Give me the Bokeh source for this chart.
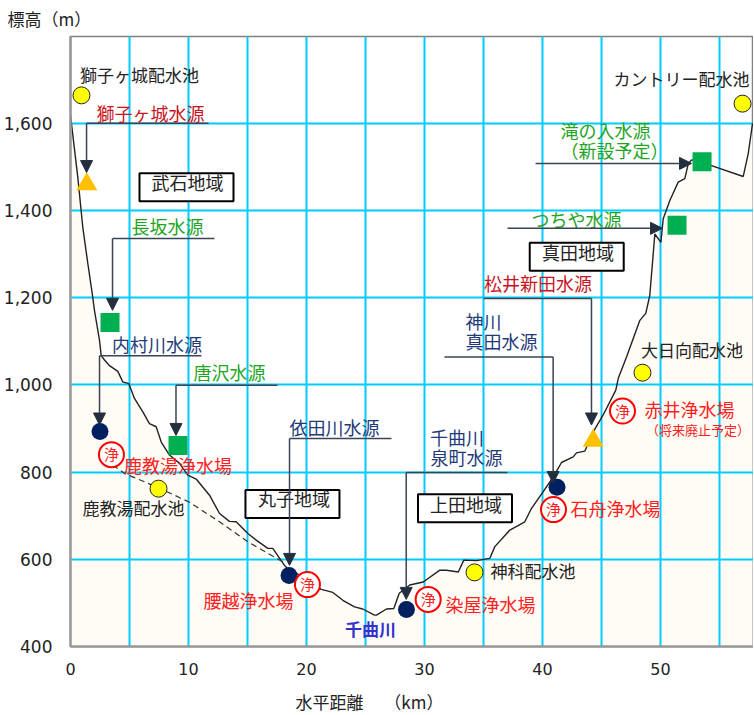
from bokeh.plotting import figure
from bokeh.models import ColumnDataSource, FixedTicker, NumeralTickFormatter, Arrow, NormalHead, Title
from bokeh.core.properties import value
from bokeh.embed import file_html
from bokeh.resources import INLINE

# Terrain profile: horizontal distance (km), elevation (m)
dist_km = [0.0,0.62,1.04,1.47,1.84,2.03,2.46,2.60,2.88,3.31,4.01,4.43,4.94,5.42,6.13,6.69,7.26,7.69,8.39,9.24,9.94,10.65,
           11.78,12.63,13.47,14.04,15.03,15.74,16.72,17.14,18.14,18.56,19.41,21.25,22.23,23.08,24.07,24.77,25.76,25.93,
           26.78,27.40,27.86,28.75,29.89,31.30,31.86,32.86,33.33,34.41,35.53,35.96,37.23,38.50,39.07,40.06,40.91,41.61,
           42.60,42.88,43.58,44.30,45.14,46.21,46.42,47.12,48.25,48.75,49.09,49.52,50.03,50.23,50.79,51.50,52.06,52.35,
           52.63,54.32,57.01,57.43,57.80]
elev_m = [1618,1476,1362,1278,1210,1171,1102,1067,1057,1044,1031,1007,1003,969,938,911,904,869,839,820,793,784,
          747,705,687,686,659,644,625,625,586,575,564,531,524,506,491,486,472,472,
          486,487,522,541,548,575,575,571,598,597,602,629,667,686,717,755,789,822,
          835,844,848,892,931,988,1015,1064,1148,1164,1205,1346,1327,1381,1423,1465,1473,1507,
          1516,1503,1478,1530,1600]

# Dashed conveyance line
pipe_km = [3.58,4.58,7.46,10.08,12.63,15.03,17.99]
pipe_m = [816,797,764,731,686,640,594]

# Facilities
pond_km = [0.93,56.95,7.46,34.24,48.47]
pond_m = [1664,1645,762,570,1028]
tri_km = [1.38,44.3]
tri_m = [1460,872]
square_km = [3.35,9.11,51.4,53.52]
square_m = [1143,861,1366,1512]
navy_km = [2.5,18.52,28.47,41.23]
navy_m = [893,563,485,765]
plant_km = [3.47,20.08,30.31,40.93,46.78]
plant_m = [840,542,508,714,940]

# Leader lines: horizontal run, then arrow down to a source
down_x0 = [11.69,12.2,11.1,17.54,27.2,37.03,31.69,35.0]
down_x1 = [1.36,3.56,2.46,8.94,18.56,28.45,40.9,44.15]
down_y0 = [1600,1336,1067,999,877,799,1064,1198]
down_y1 = [1487,1171,908,884,586,508,774,908]
# Horizontal arrows
side_x0 = [37.03,39.41]
side_x1 = [50.17,52.63]
side_y = [1359,1508]

# Area boxes
area_names = ["武石地域","丸子地域","上田地域","真田地域"]
box_km = [9.83,18.81,33.43,42.9]
box_m = [1453,727,717,1294]
area_km = [9.92,18.94,33.52,43.0]
area_m = [1460,735,723,1301]

black_names = ["獅子ヶ城配水池","鹿教湯配水池","神科配水池","大日向配水池","カントリー配水池"]
black_km = [5.85,5.34,39.19,52.67,51.78]
black_m = [1707,714,570,1077,1698]
dred_names = ["獅子ヶ城水源","松井新田水源"]
dred_km = [6.78,39.62]
dred_m = [1620,1230]
green_names = ["長坂水源","唐沢水源","つちや水源","滝の入水源","（新設予定）"]
green_km = [8.22,13.47,42.88,45.34,46.1]
green_m = [1359,1024,1375,1581,1535]
navy_names = ["内村川水源","依田川水源","千曲川","泉町水源","神川","真田水源"]
navy_tkm = [7.33,22.37,32.75,33.56,35.0,36.53]
navy_tm = [1090,898,875,831,1141,1097]
red_names = ["鹿教湯浄水場","腰越浄水場","染屋浄水場","石舟浄水場","赤井浄水場"]
red_km = [9.11,15.08,35.59,46.19,52.46]
red_m = [811,503,494,714,941]

xticks = [0,10,20,30,40,50]
xminor = [5,15,25,35,45,55]
yticks = [400,600,800,1000,1200,1400,1600]

JP = value("Noto Sans CJK JP")

p = figure(width=746, height=707, output_backend="svg", toolbar_location=None,
           x_range=(0,57.88), y_range=(400,1799),
           frame_width=683, frame_height=610,
           min_border_left=63, min_border_right=0, min_border_top=36, min_border_bottom=61,
           background_fill_color="white", border_fill_color="white")
p.outline_line_color = "#808080"
p.outline_line_width = 1.5

for ax in (p.xaxis[0], p.yaxis[0]):
    ax.axis_line_color = "#999999"
    ax.axis_line_width = 2.5
    ax.major_tick_line_color = None
    ax.minor_tick_line_color = None
    ax.major_label_text_color = "#222222"
    ax.major_label_text_font = "DejaVu Sans"

p.xaxis[0].ticker = FixedTicker(ticks=xticks, minor_ticks=xminor)
p.xaxis[0].major_label_text_font_size = "16px"
p.xaxis[0].major_label_standoff = 10
p.yaxis[0].ticker = FixedTicker(ticks=yticks)
p.yaxis[0].formatter = NumeralTickFormatter(format="0,0")
p.yaxis[0].major_label_text_font_size = "17px"
p.yaxis[0].major_label_standoff = 12

p.xgrid.grid_line_color = "#00CCFF"
p.xgrid.grid_line_width = 2
p.xgrid.minor_grid_line_color = "#00CCFF"
p.xgrid.minor_grid_line_width = 2
p.ygrid.grid_line_color = "#00CCFF"
p.ygrid.grid_line_width = 2

# cream ground fill under the grid
p.varea(x=dist_km, y1=[400]*len(dist_km), y2=elev_m, fill_color="#FFFCF5", level="image")
p.line(dist_km, elev_m, line_color="#222222", line_width=1.4)
p.line(pipe_km, pipe_m, line_color="#333333", line_width=1.2, line_dash="6 4")

# leaders
p.multi_line([[a,b] for a,b in zip(down_x0,down_x1)], [[c,c] for c in down_y0],
             line_color="#3A4455", line_width=1.5)
dark = "#232F3E"
down_src = ColumnDataSource(dict(x0=down_x1, y0=down_y0, x1=down_x1, y1=down_y1))
p.add_layout(Arrow(source=down_src, x_start="x0", y_start="y0", x_end="x1", y_end="y1",
                   line_color="#3A4455", line_width=1.5,
                   end=NormalHead(size=12, fill_color=dark, line_color=dark, line_width=1)))
side_src = ColumnDataSource(dict(x0=side_x0, y0=side_y, x1=side_x1, y1=side_y))
p.add_layout(Arrow(source=side_src, x_start="x0", y_start="y0", x_end="x1", y_end="y1",
                   line_color="#3A4455", line_width=1.5,
                   end=NormalHead(size=12, fill_color=dark, line_color=dark, line_width=1)))

# facilities
p.scatter(pond_km, pond_m, marker="circle", size=17, fill_color="#FFFF00", line_color="#222222", line_width=1)
p.scatter(tri_km, tri_m, marker="triangle", size=21, fill_color="#FFC000", line_color=None)
p.scatter(square_km, square_m, marker="square", size=19, fill_color="#00B050", line_color=None)
p.scatter(navy_km, navy_m, marker="circle", size=17, fill_color="#002060", line_color=None)
p.scatter(plant_km, plant_m, marker="circle", size=25, fill_color="white", line_color="#FF0000", line_width=2)
p.text(plant_km, plant_m, text=["浄"]*len(plant_km), text_color="#FF2020", text_font=JP, text_font_size="15px",
       text_align="center", text_baseline="middle", y_offset=-1)

# area boxes
p.rect(box_km, box_m, width=94, height=28, width_units="screen", height_units="screen",
       fill_color="white", line_color="#000000", line_width=2)

def labels(xs, ys, names, color, size="18px", style="normal"):
    p.text(xs, ys, text=names, text_color=color, text_font=JP, text_font_size=size,
           text_font_style=style, text_align="center", text_baseline="middle", y_offset=-2)

labels(area_km, area_m, area_names, "#222222", "18px")
labels(black_km, black_m, black_names, "#222222", "17px")
labels(dred_km, dred_m, dred_names, "#C8141E")
labels(green_km, green_m, green_names, "#1FA51F")
labels(navy_tkm, navy_tm, navy_names, "#1F3A78")
labels(red_km, red_m, red_names, "#FF2020")
labels([53.18], [893], ["（将来廃止予定）"], "#FF2020", "13px")
labels([25.42], [437], ["千曲川"], "#3333CC", "17px", "bold")

# axis titles
p.add_layout(Title(text="標高（m）", align="left", vertical_align="top", offset=-63, standoff=8, text_color="#222222",
                   text_font="Noto Sans CJK JP", text_font_size="17px", text_font_style="normal"), "above")
p.add_layout(Title(text="水平距離　 （km）", align="left", offset=225, standoff=18, text_color="#222222",
                   text_font="Noto Sans CJK JP", text_font_size="17px", text_font_style="normal"), "below")

open("out.html", "w").write(file_html(p, INLINE))
